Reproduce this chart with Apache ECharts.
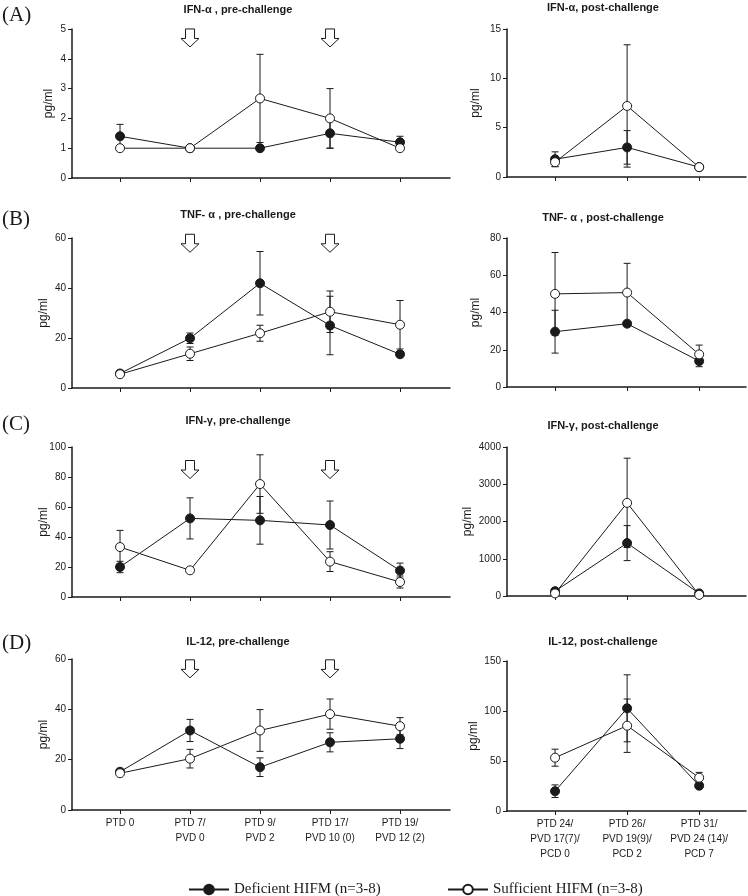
<!DOCTYPE html>
<html>
<head>
<meta charset="utf-8">
<script src="https://cdn.jsdelivr.net/npm/echarts@6/dist/echarts.min.js"></script>
<style>html,body{margin:0;padding:0;background:#fff;}#c{width:748px;height:896px;}</style>
</head>
<body>
<div id="c"></div>
<script>
// ---- categories ----
const xPre = ['PTD 0', 'PTD 7/\nPVD 0', 'PTD 9/\nPVD 2', 'PTD 17/\nPVD 10 (0)', 'PTD 19/\nPVD 12 (2)'];
const xPost = ['PTD 24/\nPVD 17(7)/\nPCD 0', 'PTD 26/\nPVD 19(9)/\nPCD 2', 'PTD 31/\nPVD 24 (14)/\nPCD 7'];
const arrowAt = [1, 3];
const seriesNames = ['Deficient HIFM (n=3-8)', 'Sufficient HIFM (n=3-8)'];

// ---- (A) IFN-alpha ----
const ifnaPreDef = [1.4, 1.0, 1.0, 1.5, 1.2];
const ifnaPreDefErr = [0.4, 0, 0, 0.5, 0.2];
const ifnaPreSuf = [1.0, 1.0, 2.67, 2.0, 1.0];
const ifnaPreSufErr = [0, 0, 1.48, 1.0, 0];
const ifnaPostDef = [1.8, 3.0, 1.0];
const ifnaPostDefErr = [0.75, 1.7, 0];
const ifnaPostSuf = [1.5, 7.2, 1.0];
const ifnaPostSufErr = [0.45, 6.2, 0];

// ---- (B) TNF-alpha ----
const tnfPreDef = [5.8, 19.9, 41.9, 25.0, 13.5];
const tnfPreDefErr = [0, 2.1, 12.7, 11.7, 1.0];
const tnfPreSuf = [5.5, 13.7, 21.9, 30.5, 25.3];
const tnfPreSufErr = [0, 2.7, 3.2, 8.3, 9.7];
const tnfPostDef = [29.7, 34.0, 13.9];
const tnfPostDefErr = [11.5, 1.0, 3.0];
const tnfPostSuf = [50.0, 50.7, 17.5];
const tnfPostSufErr = [22.2, 15.7, 5.0];

// ---- (C) IFN-gamma ----
const ifngPreDef = [20.0, 52.4, 51.1, 48.0, 17.6];
const ifngPreDefErr = [3.8, 13.7, 15.9, 16.0, 5.0];
const ifngPreSuf = [33.3, 17.8, 75.3, 23.6, 10.0];
const ifngPreSufErr = [11.1, 0, 19.5, 6.6, 4.0];
const ifngPostDef = [130, 1420, 70];
const ifngPostDefErr = [0, 470, 0];
const ifngPostSuf = [70, 2500, 30];
const ifngPostSufErr = [0, 1200, 0];

// ---- (D) IL-12 ----
const il12PreDef = [15.2, 31.6, 17.0, 26.9, 28.3];
const il12PreDefErr = [0, 4.4, 3.7, 3.8, 3.9];
const il12PreSuf = [14.6, 20.4, 31.6, 38.1, 33.3];
const il12PreSufErr = [0, 3.7, 8.3, 6.0, 3.4];
const il12PostDef = [19.8, 102.7, 25.3];
const il12PostDefErr = [6.3, 33.5, 0];
const il12PostSuf = [53.3, 85.3, 33.3];
const il12PostSufErr = [8.5, 26.7, 5.3];

// ---- y axes (max, interval) ----
const yPreMax = [5, 60, 100, 60];
const yPreStep = [1, 20, 20, 20];
const yPostMax = [15, 80, 4000, 150];
const yPostStep = [5, 20, 1000, 50];

const titlesPre = ['IFN-\u03b1 , pre-challenge', 'TNF- \u03b1 , pre-challenge', 'IFN-\u03b3, pre-challenge', 'IL-12, pre-challenge'];
const titlesPost = ['IFN-\u03b1, post-challenge', 'TNF- \u03b1 , post-challenge', 'IFN-\u03b3, post-challenge', 'IL-12, post-challenge'];
const letters = ['(A)', '(B)', '(C)', '(D)'];

const panels = [
  {pre: [ifnaPreDef, ifnaPreDefErr, ifnaPreSuf, ifnaPreSufErr], post: [ifnaPostDef, ifnaPostDefErr, ifnaPostSuf, ifnaPostSufErr]},
  {pre: [tnfPreDef, tnfPreDefErr, tnfPreSuf, tnfPreSufErr], post: [tnfPostDef, tnfPostDefErr, tnfPostSuf, tnfPostSufErr]},
  {pre: [ifngPreDef, ifngPreDefErr, ifngPreSuf, ifngPreSufErr], post: [ifngPostDef, ifngPostDefErr, ifngPostSuf, ifngPostSufErr]},
  {pre: [il12PreDef, il12PreDefErr, il12PreSuf, il12PreSufErr], post: [il12PostDef, il12PostDefErr, il12PostSuf, il12PostSufErr]}
];

// ---- layout (pixels) ----
const gridTops = [29, 238, 447, 659];
const gridTopsR = [29, 238, 447, 661];
const gridH = [149, 150, 150, 151];
const titleY = [4, 209, 415, 636];
const titleYR = [2, 212, 420, 636];
const letterY = [5, 209, 414, 633];
const arrowFrac = [0.94, 0.965, 0.85, 0.935];
const nameGapL = [17, 22, 22, 22];
const nameGapR = [25, 25, 33, 27];

const INK = '#1a1a1a';
const SANS = 'Liberation Sans, Arial, sans-serif';
const SERIF = 'Liberation Serif, Times New Roman, serif';

function errRender(params, api) {
  const x = api.value(0), m = api.value(1), e = api.value(2);
  if (!e) return null;
  const t = api.coord([x, m + e]);
  const b = api.coord([x, m - e]);
  const hw = 3.5;
  const st = {stroke: INK, lineWidth: 1};
  return {type: 'group', children: [
    {type: 'line', shape: {x1: t[0], y1: t[1], x2: b[0], y2: b[1]}, style: st},
    {type: 'line', shape: {x1: t[0] - hw, y1: t[1], x2: t[0] + hw, y2: t[1]}, style: st},
    {type: 'line', shape: {x1: b[0] - hw, y1: b[1], x2: b[0] + hw, y2: b[1]}, style: st}
  ]};
}

const grid = [], xAxis = [], yAxis = [], series = [], title = [];
const ARROW = 'path://M4,0 L12,0 L12,9 L16,9 L8,17 L0,9 L4,9 Z';

panels.forEach((p, i) => {
  ['pre', 'post'].forEach((side) => {
    const gi = grid.length;
    const isPre = side === 'pre';
    const cats = isPre ? xPre : xPost;
    const n = cats.length;
    const showLab = i === 3;
    grid.push(isPre
      ? {left: 72, top: gridTops[i], width: 378, height: gridH[i]}
      : {left: 507, top: gridTopsR[i], width: 239, height: gridH[i] - 1});
    const idx = cats.map((c, k) => k);
    xAxis.push({
      type: 'value', gridIndex: gi,
      min: isPre ? -0.686 : -0.667, max: isPre ? n - 1 + 0.714 : n - 1 + 0.65,
      splitLine: {show: false},
      axisLine: {show: true, onZero: false, lineStyle: {color: INK, width: 1.5}},
      axisTick: {show: true, length: 4, inside: false, customValues: idx, lineStyle: {color: INK, width: 1}},
      axisLabel: {show: showLab, customValues: idx, formatter: v => cats[Math.round(v)] || '',
        fontFamily: SANS, fontSize: 10, color: INK, lineHeight: 15, margin: 6}
    });
    const ymax = isPre ? yPreMax[i] : yPostMax[i];
    yAxis.push({
      type: 'value', gridIndex: gi, min: 0, max: ymax, interval: isPre ? yPreStep[i] : yPostStep[i],
      splitLine: {show: false},
      axisLine: {show: true, onZero: false, lineStyle: {color: INK, width: 1.5}},
      axisTick: {show: true, length: 4, lineStyle: {color: INK, width: 1}},
      axisLabel: {fontFamily: SANS, fontSize: 10, color: INK, margin: 6, formatter: v => String(v)},
      name: 'pg/ml', nameLocation: 'middle', nameRotate: 90, nameMoveOverlap: false,
      nameGap: isPre ? nameGapL[i] : nameGapR[i],
      nameTextStyle: {fontFamily: SANS, fontSize: 12, color: INK}
    });
    const d = p[side];
    [0, 1].forEach(g => {
      const means = d[g * 2], errs = d[g * 2 + 1];
      series.push({
        type: 'custom', name: seriesNames[g] + ' SEM', xAxisIndex: gi, yAxisIndex: gi,
        renderItem: errRender, z: 1, silent: true,
        encode: {x: 0, y: 1},
        data: means.map((m, k) => [k, m, errs[k]])
      });
    });
    [0, 1].forEach(g => {
      const means = d[g * 2];
      const ser = {
        type: 'line', name: seriesNames[g], xAxisIndex: gi, yAxisIndex: gi,
        data: means.map((m, k) => [k, m]),
        symbol: 'circle', symbolSize: 9, showSymbol: true, z: g === 1 ? 3 : 2,
        lineStyle: {color: INK, width: 1},
        itemStyle: g === 0 ? {color: INK, borderColor: INK, borderWidth: 1} : {color: '#fff', borderColor: INK, borderWidth: 1},
        emphasis: {disabled: true}, animation: false
      };
      if (isPre && g === 1) {
        ser.markPoint = {
          symbol: ARROW, symbolSize: [18, 18], silent: true, animation: false,
          itemStyle: {color: '#fff', borderColor: INK, borderWidth: 1},
          label: {show: false},
          data: arrowAt.map(a => ({coord: [a, ymax * arrowFrac[i]]}))
        };
      }
      series.push(ser);
    });
    title.push({
      text: isPre ? titlesPre[i] : titlesPost[i], padding: 0,
      left: isPre ? 238 : 603, textAlign: 'center', top: isPre ? titleY[i] : titleYR[i],
      textStyle: {fontFamily: SANS, fontSize: 11, fontWeight: 'bold', color: INK}
    });
  });
  title.push({text: letters[i], left: 2, top: letterY[i], padding: 0,
    textStyle: {fontFamily: SERIF, fontSize: 21, fontWeight: 'normal', color: INK}});
});

const legendBase = {
  top: 877, itemWidth: 40, itemHeight: 12, orient: 'horizontal', selectedMode: false,
  textStyle: {fontFamily: SERIF, fontSize: 15, color: INK}
};

const chart = echarts.init(document.getElementById('c'), null, {renderer: 'canvas'});
chart.setOption({
  backgroundColor: '#fff',
  animation: false,
  title: title,
  grid: grid,
  xAxis: xAxis,
  yAxis: yAxis,
  legend: [
    Object.assign({}, legendBase, {left: 183, data: [seriesNames[0]]}),
    Object.assign({}, legendBase, {left: 442, data: [seriesNames[1]]})
  ],
  series: series
});
</script>
</body>
</html>
